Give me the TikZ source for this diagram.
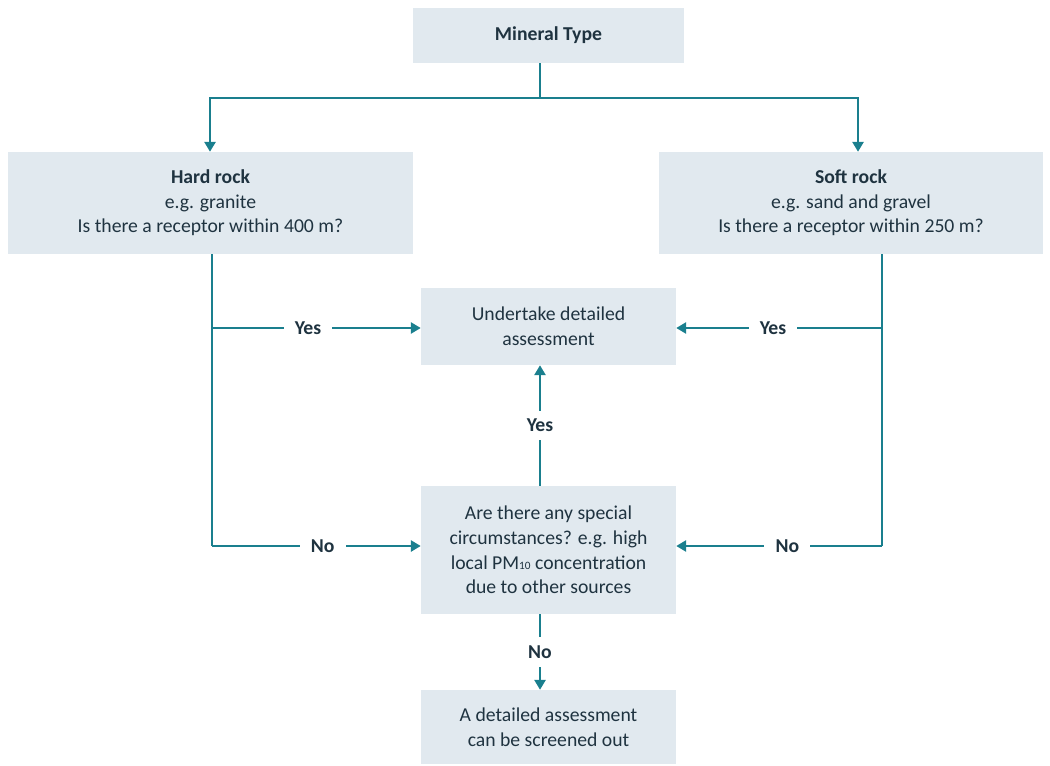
\documentclass[tikz,border=0pt]{standalone}
\usepackage{fontspec}
\setmainfont{Carlito}
\usetikzlibrary{positioning, arrows.meta}
\definecolor{boxfill}{HTML}{E1E9EF}
\definecolor{flowline}{HTML}{1A7F8E}
\definecolor{ink}{HTML}{1F3340}

\begin{document}
\begin{tikzpicture}[
    x=0.025cm, y=-0.025cm,
    >={Triangle[length=7pt, width=8pt]},
    every node/.style={font=\fontsize{14}{17.5}\selectfont, text=ink},
    stage/.style={fill=boxfill, align=center, inner sep=0pt},
    flow/.style={draw=flowline, line width=1.3pt},
    answer/.style={fill=white, font=\fontsize{14}{17.5}\selectfont\bfseries,
                   inner xsep=8pt, inner ysep=6pt},
]
\useasboundingbox (0,0) rectangle (1050,765);

% Boxes
\node[stage, minimum width=6.775cm, minimum height=1.375cm] (mineral) at (548.5,35.5)
    {\textbf{Mineral Type}};
\node[stage, minimum width=10.125cm, minimum height=2.55cm] (hard) at (210.5,203)
    {\textbf{Hard rock}\\e.g. granite\\Is there a receptor within 400 m?};
\node[stage, minimum width=9.6cm, minimum height=2.55cm] (soft) at (851,203)
    {\textbf{Soft rock}\\e.g. sand and gravel\\Is there a receptor within 250 m?};
\node[stage, minimum width=6.375cm, minimum height=1.925cm] (detail) at (548.5,326.5)
    {Undertake detailed\\assessment};
\node[stage, minimum width=6.375cm, minimum height=3.2cm] (special) at (548.5,550)
    {Are there any special\\circumstances? e.g. high\\local PM{\fontsize{8}{8}\selectfont 10} concentration\\due to other sources};
\node[stage, minimum width=6.375cm, minimum height=1.85cm] (screen) at (548.5,727)
    {A detailed assessment\\can be screened out};

% Branch points
\coordinate (split) at (540,98);
\coordinate (hardtop) at (210,98);
\coordinate (softtop) at (858,98);
\coordinate (hardyes) at (212,328);
\coordinate (hardno) at (212,546);
\coordinate (softyes) at (882,328);
\coordinate (softno) at (882,546);

% Connectors
\draw[flow] (split |- mineral.south) -- (split);
\draw[flow, ->] (split) -- (hardtop) -- (hardtop |- hard.north);
\draw[flow, ->] (split) -- (softtop) -- (softtop |- soft.north);

\draw[flow] (hardyes |- hard.south) -- (hardno);
\draw[flow, ->] (hardyes) -- node[answer, pos=0.46] {Yes} (hardyes -| detail.west);
\draw[flow, ->] (hardno) -- node[answer, pos=0.53] {No} (hardno -| special.west);

\draw[flow] (softyes |- soft.south) -- (softno);
\draw[flow, ->] (softyes) -- node[answer, pos=0.53] {Yes} (softyes -| detail.east);
\draw[flow, ->] (softno) -- node[answer, pos=0.46] {No} (softno -| special.east);

\draw[flow, ->] (split |- special.north) -- node[answer] {Yes} (split |- detail.south);
\draw[flow, ->] (split |- special.south) -- node[answer] {No} (split |- screen.north);

\end{tikzpicture}
\end{document}
